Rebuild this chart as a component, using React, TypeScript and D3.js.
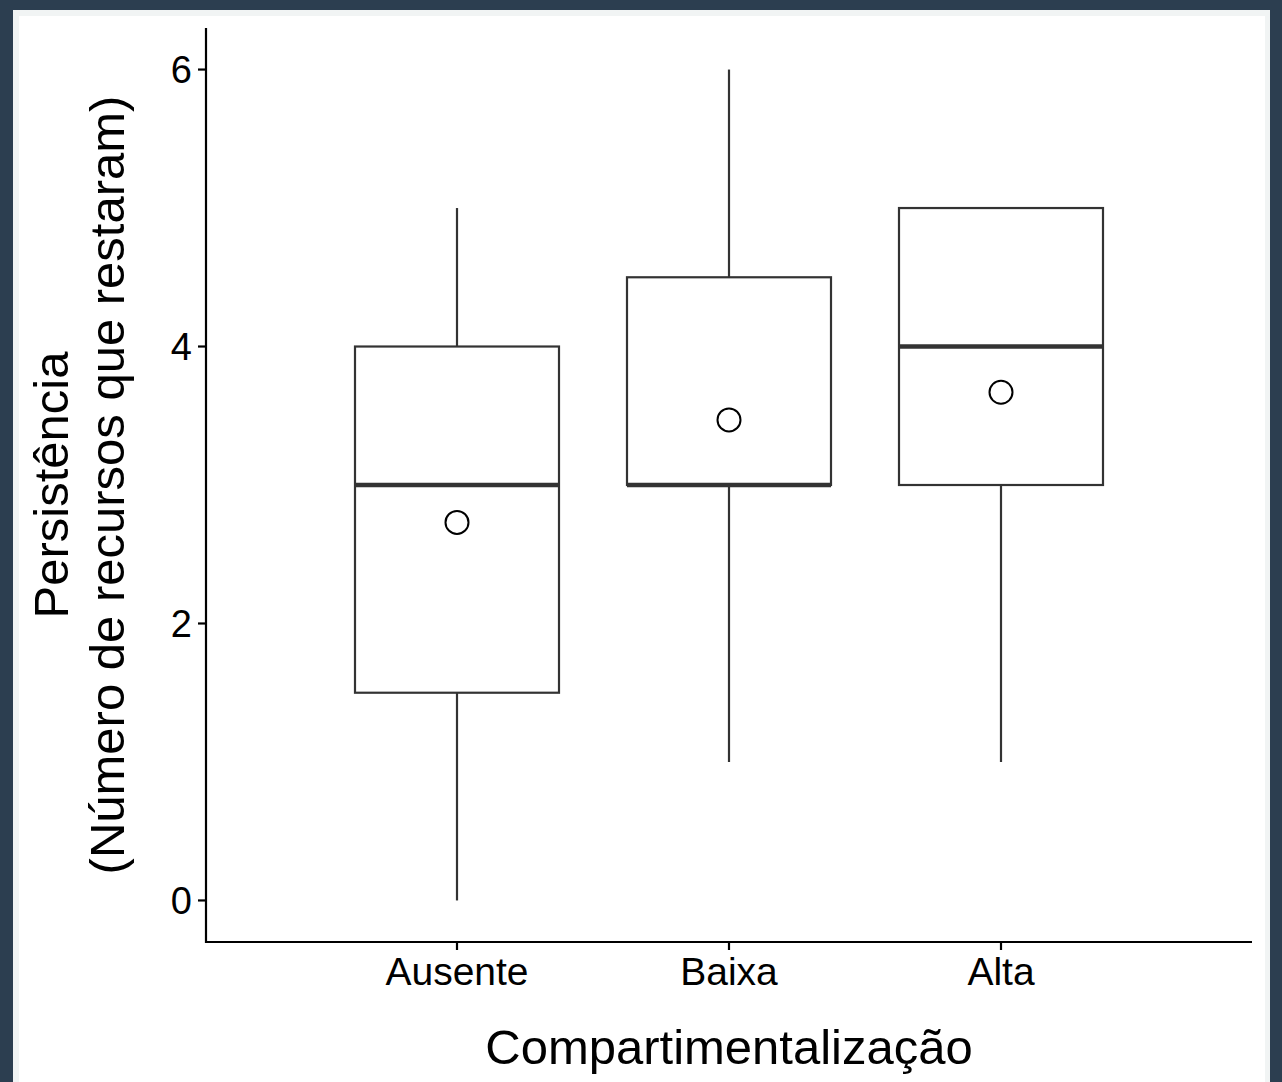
import React from "react";
import * as d3 from "d3";

const categories = ["Ausente", "Baixa", "Alta"];
const whiskerLow = [0, 1, 1];
const q1 = [1.5, 3, 3];
const medians = [3, 3, 4];
const q3 = [4, 4.5, 5];
const whiskerHigh = [5, 6, 5];
const means = [2.73, 3.47, 3.67];
const yTicks = [0, 2, 4, 6];

const W = 1282;
const H = 1082;
const font = "'Liberation Sans', Arial, Helvetica, sans-serif";

export default function App() {
  const left = 206, right = 1252, top = 28, bottom = 942;
  const y = d3.scaleLinear().domain([-0.3, 6.3]).range([bottom, top]);
  const x = d3.scalePoint<string>().domain(categories).range([457, 1001]);
  const step = x.step();
  const bw = step * 0.75;
  return (
    <svg width={W} height={H} style={{ position: "absolute", left: 0, top: 0 }}>
      <rect x={0} y={0} width={W} height={H} fill="#2c3e50" />
      <rect x={13} y={10} width={1257} height={H} fill="#f1f4f4" />
      <rect x={19} y={16} width={1246} height={H} fill="#ffffff" />
      {categories.map((c, i) => {
        const cx = x(c)!;
        return (
          <g key={c}>
            <line x1={cx} x2={cx} y1={y(whiskerHigh[i])} y2={y(q3[i])} stroke="#333" strokeWidth={2.2} />
            <line x1={cx} x2={cx} y1={y(q1[i])} y2={y(whiskerLow[i])} stroke="#333" strokeWidth={2.2} />
            <rect x={cx - bw / 2} y={y(q3[i])} width={bw} height={y(q1[i]) - y(q3[i])} fill="white" stroke="#333" strokeWidth={2.2} />
            <line x1={cx - bw / 2} x2={cx + bw / 2} y1={y(medians[i])} y2={y(medians[i])} stroke="#333" strokeWidth={4.4} />
            <circle cx={cx} cy={y(means[i])} r={11.5} fill="white" stroke="black" strokeWidth={2} />
          </g>
        );
      })}
      <line x1={left} x2={left} y1={top} y2={bottom + 1} stroke="black" strokeWidth={2.2} />
      <line x1={left - 1} x2={right} y1={bottom} y2={bottom} stroke="black" strokeWidth={2.2} />
      {yTicks.map((t) => (
        <g key={t}>
          <line x1={left - 8} x2={left} y1={y(t)} y2={y(t)} stroke="black" strokeWidth={2.2} />
          <text x={192} y={y(t)} dy="0.36em" textAnchor="end" fontFamily={font} fontSize={38} fill="black">{t}</text>
        </g>
      ))}
      {categories.map((c) => (
        <g key={c}>
          <line x1={x(c)} x2={x(c)} y1={bottom} y2={bottom + 8} stroke="black" strokeWidth={2.2} />
          <text x={x(c)} y={985} textAnchor="middle" fontFamily={font} fontSize={39} fill="black">{c}</text>
        </g>
      ))}
      <text x={(left + right) / 2} y={1064} textAnchor="middle" fontFamily={font} fontSize={49} fill="black">Compartimentalização</text>
      <g transform={`translate(68, ${(top + bottom) / 2}) rotate(-90)`}>
        <text x={0} y={0} textAnchor="middle" fontFamily={font} fontSize={49} fill="black">Persistência</text>
        <text x={0} y={56} textAnchor="middle" fontFamily={font} fontSize={49} fill="black">(Número de recursos que restaram)</text>
      </g>
    </svg>
  );
}
